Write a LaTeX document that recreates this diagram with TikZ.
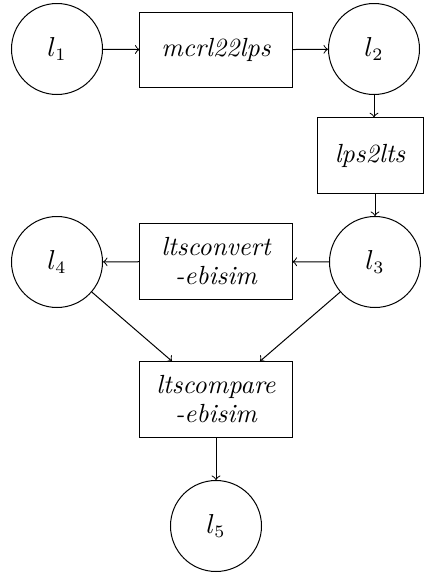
\documentclass[tikz,border=0pt]{standalone}
\usetikzlibrary{arrows}
\begin{document}
\begin{tikzpicture}[x=0.4pt,y=-0.4pt,
  every node/.style={font=\fontsize{10.5pt}{12.6pt}\selectfont},
  state/.style={draw,circle,minimum size=36.4pt,inner sep=0pt},
  tool/.style={draw,rectangle,minimum width=60.8pt,minimum height=30.2pt,inner sep=0pt,align=center,font=\fontsize{10.5pt}{12.6pt}\selectfont\itshape},
  flow/.style={->,line width=0.4pt}]
\useasboundingbox (0,0) rectangle (424,574);
% states
\node[state] (l1) at (57,49) {$l_1$};
\node[state] (l2) at (374,49) {$l_2$};
\node[state] (l3) at (375,262) {$l_3$};
\node[state] (l4) at (57,262) {$l_4$};
\node[state] (l5) at (216,526) {$l_5$};
% tools
\node[tool] (mcrl) at (216,50) {mcrl22lps};
\node[tool,minimum width=42.4pt] (lps) at (370,155.5) {lps2lts};
\node[tool] (conv) at (216,261.5) {ltsconvert\\[-1pt]-ebisim};
\node[tool] (comp) at (216,399.5) {ltscompare\\[-1pt]-ebisim};
% target points on the comparison box
\coordinate (cl) at ([xshift=-17.6pt]comp.north);
\coordinate (cr) at ([xshift=17.6pt]comp.north);
% connectors
\draw[flow] (l1) -- (mcrl);
\draw[flow] (mcrl) -- (l2);
\draw[flow] (l2.south) -- (l2.south |- lps.north);
\draw[flow] (l3.north |- lps.south) -- (l3.north);
\draw[flow] (l3) -- (conv);
\draw[flow] (conv) -- (l4);
\draw[flow] (l4) -- (cl);
\draw[flow] (l3) -- (cr);
\draw[flow] (comp) -- (l5);
\end{tikzpicture}
\end{document}
